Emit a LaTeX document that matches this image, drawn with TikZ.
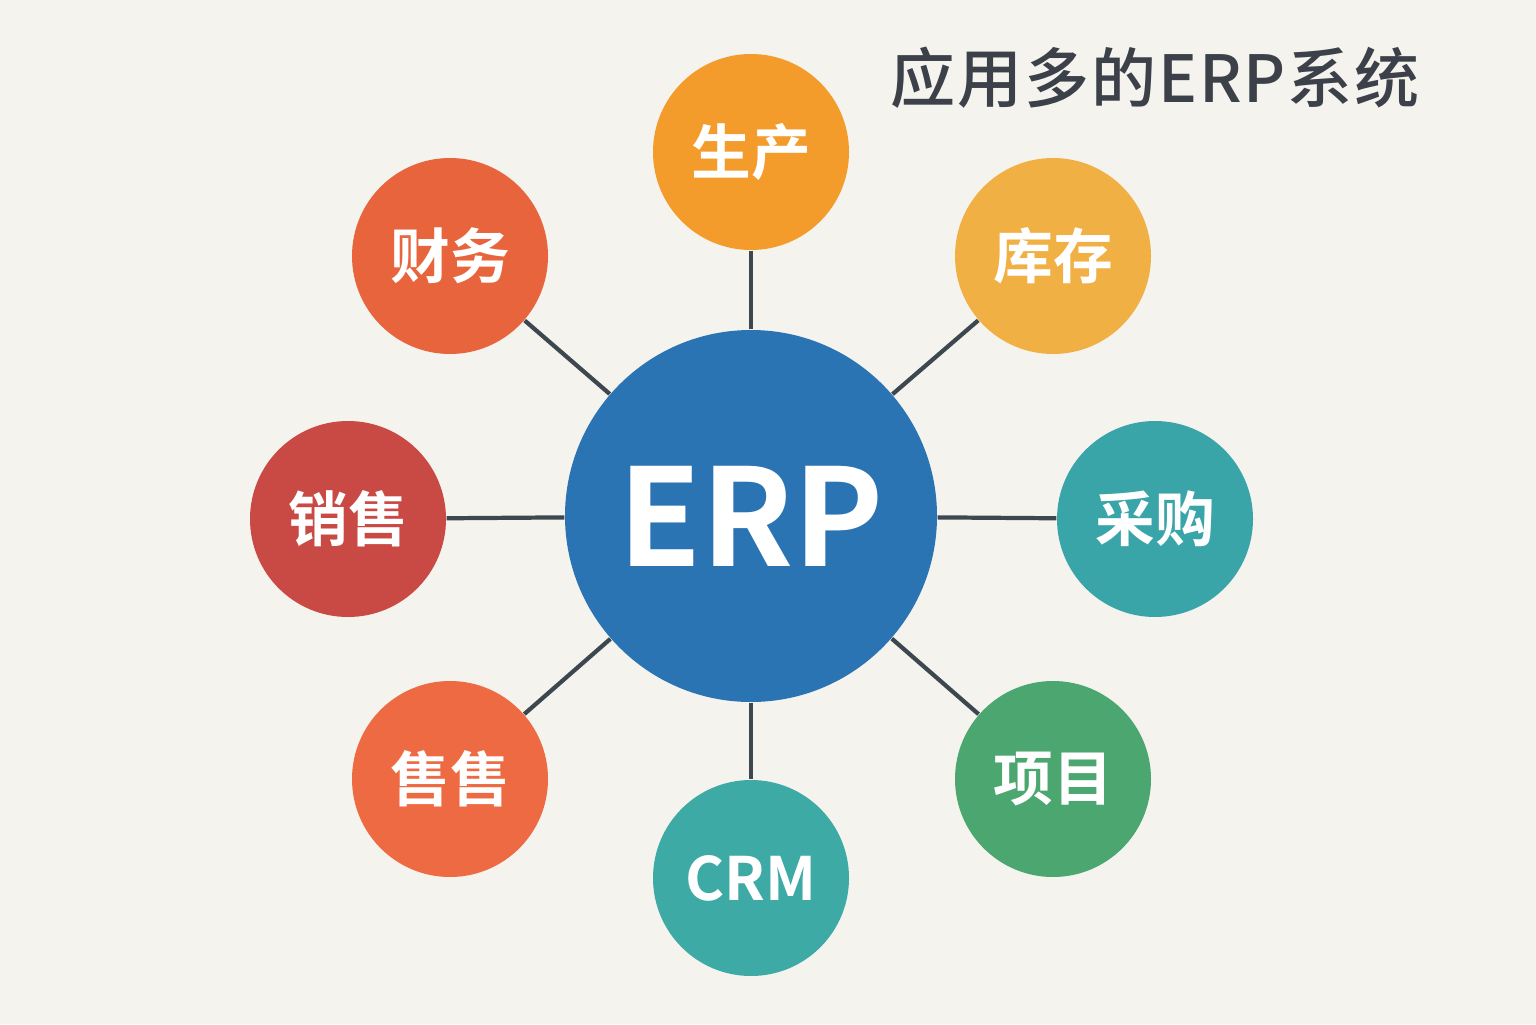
\documentclass[tikz,border=0pt]{standalone}
\usepackage{fontspec}
\usepackage{xcolor}
\usepackage{tikz}
\usetikzlibrary{positioning}
\newfontfamily\cjk[BoldFont={Noto Sans CJK SC Bold}]{Noto Sans CJK SC}
\newfontfamily\cjkmed[LetterSpace=3]{Noto Sans CJK SC Medium}
\definecolor{BgC}{RGB}{245,243,238}
\definecolor{LinkC}{RGB}{61,71,80}
\definecolor{ERPc}{RGB}{42,116,180}
\definecolor{TitleC}{RGB}{59,64,73}
\definecolor{ProdC}{RGB}{243,156,43}
\definecolor{FinC}{RGB}{232,100,60}
\definecolor{StockC}{RGB}{241,176,67}
\definecolor{SaleC}{RGB}{201,74,69}
\definecolor{BuyC}{RGB}{58,165,169}
\definecolor{Sale2C}{RGB}{238,106,66}
\definecolor{ProjC}{RGB}{75,166,111}
\definecolor{CrmC}{RGB}{61,170,165}

\begin{document}
\begin{tikzpicture}[
  hub/.style={circle,fill=ERPc,minimum size=3.72cm,inner sep=0pt,text=white,
    font=\cjk\bfseries\fontsize{38.5}{38.5}\selectfont},
  modul/.style={circle,minimum size=1.96cm,inner sep=0pt,text=white,
    font=\cjk\bfseries\fontsize{17}{17}\selectfont},
  link/.style={draw=LinkC,line width=1.2pt}]
  \fill[BgC] (0,0) rectangle (15.36,10.24);
  \useasboundingbox (0,0) rectangle (15.36,10.24);
  \node[hub] (erp) at (7.51,5.08) {ERP};
  \foreach \n/\x/\y/\c/\lab in {prod/7.51/8.72/ProdC/{生产},fin/4.50/7.68/FinC/{财务},
      stock/10.53/7.68/StockC/{库存},sale/3.48/5.05/SaleC/{销售},buy/11.55/5.05/BuyC/{采购},
      saleb/4.50/2.45/Sale2C/{售售},proj/10.53/2.45/ProjC/{项目},crm/7.51/1.46/CrmC/{CRM}}{
    \node[modul,fill=\c] (\n) at (\x,\y) {\lab};
    \draw[link] (erp) -- (\n);}
  \node[text=TitleC,font=\cjkmed\fontsize{18.5}{18.5}\selectfont] (title) at (11.55,9.46) {应用多的ERP系统};
\end{tikzpicture}
\end{document}
